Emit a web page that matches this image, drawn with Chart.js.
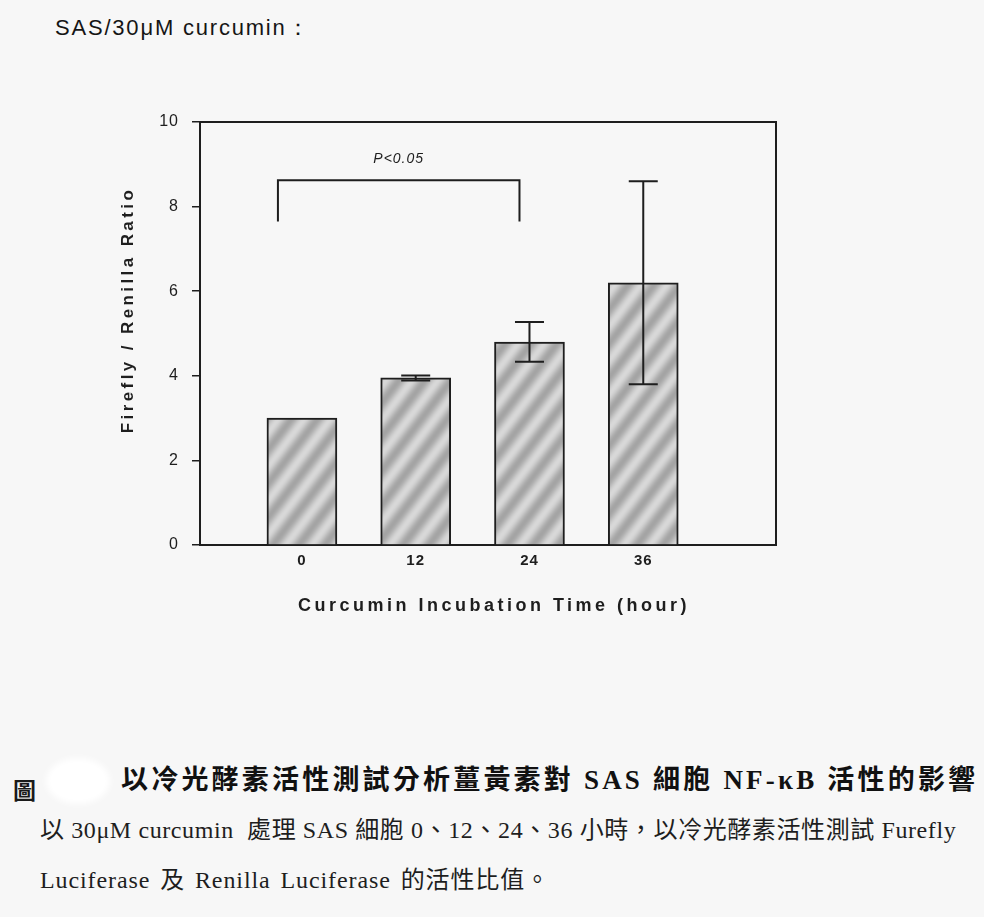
<!DOCTYPE html>
<html>
<head>
<meta charset="utf-8">
<script src="https://cdn.jsdelivr.net/npm/chart.js@4.4.1/dist/chart.umd.min.js"></script>
<style>
html,body{margin:0;padding:0;}
body{width:984px;height:917px;background:#f7f7f7;position:relative;overflow:hidden;font-family:"Liberation Sans",Arial,sans-serif;}
#wrap{position:absolute;left:0;top:0;width:984px;height:650px;}
.t{position:absolute;white-space:nowrap;color:#1a1a1a;line-height:1;}
#top{left:55px;top:17px;font-size:22px;letter-spacing:1.8px;font-family:"Liberation Sans",Arial,sans-serif;color:#151515;}
#fig{left:13px;top:772px;font:700 23px "Noto Sans CJK TC",sans-serif;}
#blob{position:absolute;left:46px;top:758px;width:64px;height:46px;background:#fff;border-radius:50%;filter:blur(3px);}
#head{left:121px;top:758px;font:700 27px "Liberation Serif","Noto Sans CJK TC",serif;letter-spacing:3.2px;color:#111;}
#l1{left:40px;top:810px;font:400 24px "Liberation Serif","Noto Sans CJK TC",serif;letter-spacing:0.6px;color:#1e1e1e;}
#l2{left:40px;top:860px;font:400 24px "Liberation Serif","Noto Sans CJK TC",serif;letter-spacing:0.9px;word-spacing:3px;color:#1e1e1e;}
</style>
</head>
<body>
<div class="t" id="top">SAS/30μM curcumin：</div>
<div id="wrap"><canvas id="c" width="984" height="650"></canvas></div>
<div class="t" id="fig">圖</div>
<div id="blob"></div>
<div class="t" id="head">以冷光酵素活性測試分析薑黃素對 SAS 細胞 NF-κB 活性的影響</div>
<div class="t" id="l1">以 30μM curcumin&nbsp; 處理 SAS 細胞 0、12、24、36 小時，以冷光酵素活性測試 Furefly</div>
<div class="t" id="l2">Luciferase 及 Renilla Luciferase 的活性比值。</div>
<script>
// ---- data ----
const hours = [0, 12, 24, 36];                 // x categories (hour)
const ratioMeans = [3.0, 3.95, 4.8, 6.2];       // Firefly / Renilla ratio
const ratioErrors = [0, 0.06, 0.47, 2.4];       // error bar half-lengths
const yTickValues = [0, 2, 4, 6, 8, 10];
const sigPair = [0, 24];                        // groups compared
const sigLevel = 8.62;                          // bracket height (ratio units)
const sigLegEnd = 7.65;                         // bracket leg ends
const sigLabel = 'P<0.05';
const xTitle = 'Curcumin Incubation Time (hour)';
const yTitle = 'Firefly / Renilla Ratio';

const INK = '#1e1e1e';

function stripePattern(ctx) {
  const w = 26, h = 34;
  const c = document.createElement('canvas');
  c.width = w; c.height = h;
  const g = c.getContext('2d');
  const img = g.createImageData(w, h);
  for (let yy = 0; yy < h; yy++) {
    for (let xx = 0; xx < w; xx++) {
      const p = xx / w + yy / h;
      const v = 0.5 + 0.5 * Math.cos(2 * Math.PI * p);
      const s = Math.round(164 + v * 52);
      const k = (yy * w + xx) * 4;
      img.data[k] = s; img.data[k + 1] = s; img.data[k + 2] = s; img.data[k + 3] = 255;
    }
  }
  g.putImageData(img, 0, 0);
  return ctx.createPattern(c, 'repeat');
}

const decor = {
  id: 'decor',
  beforeDraw(chart) {
    chart.ctx.letterSpacing = '1px';
  },
  afterDatasetsDraw(chart) {
    const {ctx, chartArea: a, scales: {x, y}} = chart;
    ctx.save();
    ctx.letterSpacing = '0px';
    ctx.strokeStyle = INK;
    ctx.lineWidth = 2;
    // top and right frame
    ctx.beginPath();
    ctx.moveTo(a.left - 1, a.top);
    ctx.lineTo(a.right, a.top);
    ctx.lineTo(a.right, a.bottom);
    ctx.stroke();
    // error bars
    hours.forEach((h, i) => {
      const e = ratioErrors[i];
      if (!e) return;
      const px = x.getPixelForValue(h);
      const hi = y.getPixelForValue(ratioMeans[i] + e);
      const lo = y.getPixelForValue(ratioMeans[i] - e);
      ctx.beginPath();
      ctx.moveTo(px, hi); ctx.lineTo(px, lo);
      ctx.moveTo(px - 14.5, hi); ctx.lineTo(px + 14.5, hi);
      ctx.moveTo(px - 14.5, lo); ctx.lineTo(px + 14.5, lo);
      ctx.stroke();
    });
    // significance bracket
    const bx1 = x.getPixelForValue(sigPair[0]) - 24;
    const bx2 = x.getPixelForValue(sigPair[1]) - 10;
    const by = y.getPixelForValue(sigLevel);
    const bl = y.getPixelForValue(sigLegEnd);
    ctx.beginPath();
    ctx.moveTo(bx1, bl); ctx.lineTo(bx1, by); ctx.lineTo(bx2, by); ctx.lineTo(bx2, bl);
    ctx.stroke();
    ctx.fillStyle = INK;
    ctx.font = 'italic 14px "Liberation Sans", Arial, sans-serif';
    ctx.letterSpacing = '1px';
    ctx.textAlign = 'center';
    ctx.textBaseline = 'middle';
    ctx.fillText(sigLabel, (bx1 + bx2) / 2, y.getPixelForValue(sigLevel + 0.5));
    ctx.restore();
  },
  afterDraw(chart) {
    const {ctx} = chart;
    ctx.save();
    ctx.fillStyle = INK;
    ctx.textAlign = 'center';
    ctx.textBaseline = 'middle';
    ctx.font = 'bold 18px "Liberation Sans", Arial, sans-serif';
    ctx.letterSpacing = '3.5px';
    ctx.fillText(xTitle, 494, 606);
    ctx.translate(128, 310);
    ctx.rotate(-Math.PI / 2);
    ctx.font = 'bold 17px "Liberation Sans", Arial, sans-serif';
    ctx.letterSpacing = '3.4px';
    ctx.fillText(yTitle, 0, 0);
    ctx.restore();
    ctx.letterSpacing = '0px';
  }
};

const canvas = document.getElementById('c');
const c2d = canvas.getContext('2d');

new Chart(canvas, {
  type: 'bar',
  data: {
    datasets: [{
      data: hours.map((h, i) => ({x: h, y: ratioMeans[i]})),
      backgroundColor: stripePattern(c2d),
      borderColor: INK,
      borderWidth: 2,
      barThickness: 70
    }]
  },
  options: {
    responsive: false,
    animation: false,
    events: [],
    layout: {padding: {left: 0, top: 122, right: 208, bottom: 0}},
    plugins: {legend: {display: false}, tooltip: {enabled: false}},
    scales: {
      x: {
        type: 'linear', min: -10.75, max: 50, offset: false,
        afterBuildTicks: s => { s.ticks = hours.map(v => ({value: v})); },
        afterFit: s => { s.height = 105; },
        grid: {display: false, drawTicks: false},
        border: {display: true, color: INK, width: 2},
        ticks: {
          padding: 7, color: INK, autoSkip: false, maxRotation: 0,
          font: {family: '"Liberation Sans Narrow", "Liberation Sans", Arial', size: 15, weight: 'bold'},
          callback: v => String(v)
        },
        title: {display: false}
      },
      y: {
        min: 0, max: 10,
        afterBuildTicks: s => { s.ticks = yTickValues.map(v => ({value: v})); },
        afterFit: s => { s.width = 200; },
        grid: {drawOnChartArea: false, drawTicks: true, tickLength: 8, color: INK, lineWidth: 1.5},
        border: {display: true, color: INK, width: 2},
        ticks: {
          padding: 13, color: INK,
          font: {family: '"Liberation Sans", Arial', size: 16},
          callback: v => String(v)
        },
        title: {display: false}
      }
    }
  },
  plugins: [decor]
});
</script>
</body>
</html>
